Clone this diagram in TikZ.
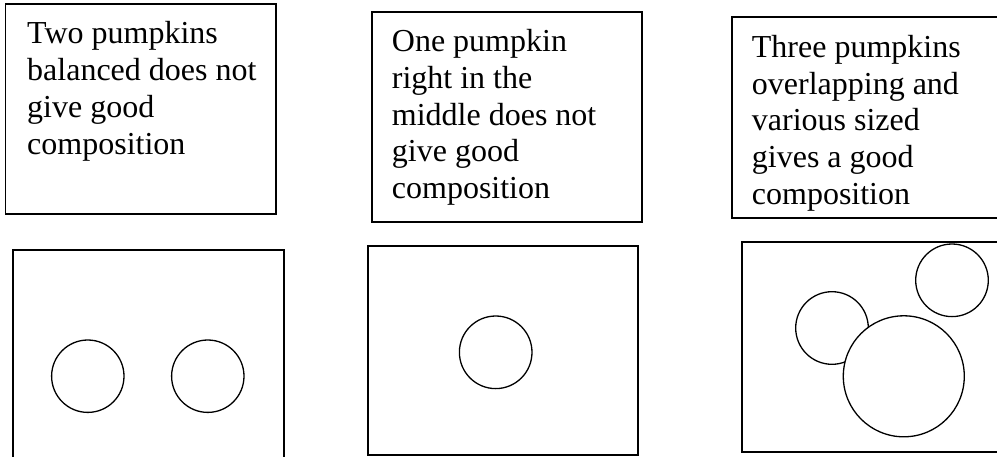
\documentclass[tikz,border=0pt]{standalone}
\usepackage{fontspec}
\setmainfont{Liberation Serif}
\begin{document}
\begin{tikzpicture}[x=1pt,y=-1pt,
  frame/.style={draw=black,line width=1.8pt},
  pumpkin/.style={draw=black,line width=1.3pt,fill=white},
  txt/.style={anchor=base west,inner sep=0pt,font=\fontsize{32}{37}\selectfont}]
\useasboundingbox (0,0) rectangle (997,456);
\clip (0,0) rectangle (997,456);
% top text boxes
\draw[frame] (5.5,4) rectangle (276,214);
\draw[frame] (371.7,11.7) rectangle (642,221.7);
\draw[frame] (731.7,17.3) rectangle (1010,218);
% texts
\node[txt] (a1) at (27,43.3) {Two pumpkins};
\node[txt] (a2) at (27,80) {balanced does not};
\node[txt] (a3) at (27,117) {give good};
\node[txt] (a4) at (27,154) {composition};
\node[txt] (b1) at (391.7,51.7) {One pumpkin};
\node[txt] (b2) at (391.7,88.4) {right in the};
\node[txt] (b3) at (391.7,125.1) {middle does not};
\node[txt] (b4) at (391.7,161.8) {give good};
\node[txt] (b5) at (391.7,198.5) {composition};
\node[txt] (c1) at (751.7,57.3) {Three pumpkins};
\node[txt] (c2) at (751.7,94) {overlapping and};
\node[txt] (c3) at (751.7,130.7) {various sized};
\node[txt] (c4) at (751.7,167.4) {gives a good};
\node[txt] (c5) at (751.7,204.1) {composition};
% bottom frames
\draw[frame] (13.3,250) rectangle (284,462);
\draw[frame] (367.7,245.7) rectangle (638.3,455);
\draw[frame] (741.7,242.3) rectangle (1010,451.7);
% pumpkins
\draw[pumpkin] (87.8,376.2) circle[radius=36.2];
\draw[pumpkin] (207.8,376.2) circle[radius=36.2];
\draw[pumpkin] (495.7,352.3) circle[radius=36.3];
\draw[pumpkin] (832,328) circle[radius=36.3];
\draw[pumpkin] (952,280.3) circle[radius=36.3];
\draw[pumpkin] (903.8,376.3) circle[radius=60.5];
\end{tikzpicture}
\end{document}
